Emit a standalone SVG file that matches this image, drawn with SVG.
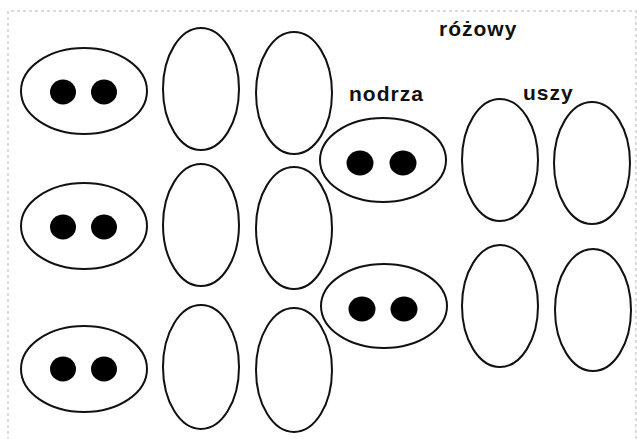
<svg xmlns="http://www.w3.org/2000/svg" width="637" height="439" viewBox="0 0 637 439">
<style>
.o{fill:#fff;stroke:#111;stroke-width:2}
.n{fill:#000}
.t{font-family:"Liberation Sans",Arial,sans-serif;font-weight:bold;font-size:21px;letter-spacing:1px;fill:#111}
</style>
<rect width="637" height="439" fill="#fff"/>
<path d="M8,440 V11 H636 V440" fill="none" stroke="#cfcfcf" stroke-width="1.5" stroke-dasharray="3,3"/>
<g id="snout1"><ellipse class="o" cx="84" cy="91" rx="63" ry="43"/><ellipse class="n" cx="63" cy="92" rx="13" ry="12.5"/><ellipse class="n" cx="104" cy="92" rx="13" ry="12.5"/></g>
<g id="snout2"><ellipse class="o" cx="84" cy="226" rx="63" ry="43"/><ellipse class="n" cx="63" cy="227" rx="13" ry="12.5"/><ellipse class="n" cx="104" cy="227" rx="13" ry="12.5"/></g>
<g id="snout3"><ellipse class="o" cx="84" cy="369" rx="63" ry="43"/><ellipse class="n" cx="63" cy="369" rx="13" ry="12.5"/><ellipse class="n" cx="104" cy="369" rx="13" ry="12.5"/></g>
<g id="ear1"><ellipse class="o" cx="201" cy="89" rx="38" ry="61"/></g>
<g id="ear2"><ellipse class="o" cx="201" cy="225" rx="38" ry="61"/></g>
<g id="ear3"><ellipse class="o" cx="201" cy="367" rx="38" ry="62"/></g>
<g id="ear4"><ellipse class="o" cx="294" cy="93" rx="38" ry="61"/></g>
<g id="ear5"><ellipse class="o" cx="294" cy="228" rx="38" ry="61"/></g>
<g id="ear6"><ellipse class="o" cx="294" cy="370" rx="38" ry="62"/></g>
<g id="snout4"><ellipse class="o" cx="383" cy="160" rx="63" ry="42"/><ellipse class="n" cx="360" cy="163" rx="13.5" ry="12.5"/><ellipse class="n" cx="403" cy="163" rx="13.5" ry="12.5"/></g>
<g id="snout5"><ellipse class="o" cx="384" cy="306" rx="63" ry="42"/><ellipse class="n" cx="362" cy="309" rx="13.5" ry="12.5"/><ellipse class="n" cx="404" cy="309" rx="13.5" ry="12.5"/></g>
<g id="ear7"><ellipse class="o" cx="500" cy="160" rx="38" ry="61"/></g>
<g id="ear8"><ellipse class="o" cx="592" cy="163" rx="38" ry="61"/></g>
<g id="ear9"><ellipse class="o" cx="500" cy="306" rx="38" ry="61"/></g>
<g id="ear10"><ellipse class="o" cx="593" cy="310" rx="38" ry="61"/></g>
<g id="labels">
<text class="t" x="439" y="36">różowy</text>
<text class="t" x="349" y="101">nodrza</text>
<text class="t" x="523" y="100">uszy</text>
</g>
</svg>
